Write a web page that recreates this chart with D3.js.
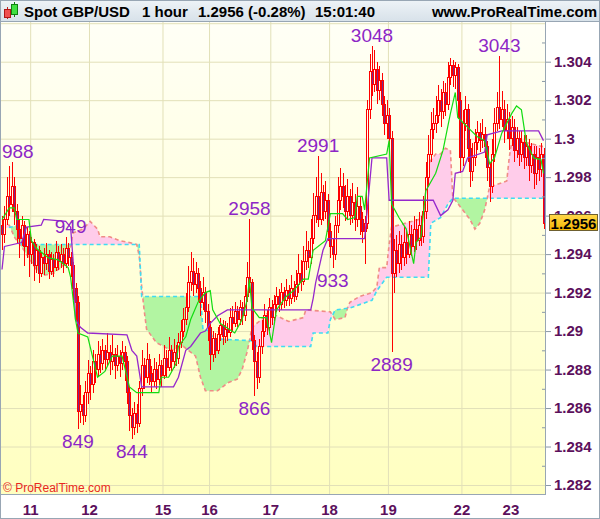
<!DOCTYPE html>
<html lang="en">
<head>
<meta charset="UTF-8">
<title>Spot GBP/USD 1 hour</title>
<script src="https://cdnjs.cloudflare.com/ajax/libs/d3/7.8.5/d3.min.js"></script>
<style>
  html, body { margin: 0; padding: 0; background: #fff; }
  svg { display: block; font-family: Arial, "Liberation Sans", sans-serif; }
</style>
</head>
<body>
<svg id="main" width="600" height="519"></svg>
<script>
// hourly bars; open of each bar = previous close
const firstOpen = 1.2955;
const closes = [
 1.2950,1.2958,1.2970,1.2966,1.2975,1.2962,1.2953,1.2948,1.2955,1.2944,1.2950,1.2940,
 1.2946,1.2934,1.2942,1.2930,1.2938,1.2935,1.2940,1.2931,1.2937,1.2933,1.2941,1.2936,
 1.2940,1.2935,1.2943,1.2938,1.2934,1.2922,1.2915,1.2858,1.2862,1.2856,1.2868,1.2878,
 1.2872,1.2884,1.2880,1.2888,1.2883,1.2890,1.2885,1.2889,1.2884,1.2888,1.2882,1.2887,
 1.2883,1.2889,1.2884,1.2868,1.2856,1.2850,1.2857,1.2852,1.2870,1.2882,1.2876,1.2885,
 1.2878,1.2874,1.2880,1.2875,1.2882,1.2877,1.2886,1.2881,1.2890,1.2884,1.2889,1.2886,
 1.2894,1.2900,1.2906,1.2912,1.2925,1.2931,1.2924,1.2930,1.2922,1.2915,1.2920,1.2910,
 1.2902,1.2888,1.2896,1.2890,1.2898,1.2903,1.2897,1.2901,1.2899,1.2907,1.2904,1.2910,
 1.2906,1.2912,1.2908,1.2918,1.2928,1.2925,1.2895,1.2884,1.2876,1.2892,1.2900,1.2908,
 1.2902,1.2912,1.2907,1.2914,1.2918,1.2914,1.2920,1.2916,1.2921,1.2917,1.2922,1.2918,
 1.2924,1.2930,1.2926,1.2936,1.2942,1.2938,1.2948,1.2960,1.2970,1.2958,1.2972,1.2962,
 1.2968,1.2952,1.2944,1.2940,1.2955,1.2968,1.2975,1.2970,1.2962,1.2970,1.2960,1.2967,
 1.2958,1.2965,1.2958,1.2952,1.2956,1.3015,1.3035,1.3028,1.3036,1.3025,1.3030,1.3018,
 1.3008,1.3012,1.3000,1.2930,1.2942,1.2935,1.2945,1.2938,1.2946,1.2940,1.2950,1.2944,
 1.2953,1.2947,1.2955,1.2949,1.2962,1.2980,1.2992,1.3005,1.3008,1.3012,1.3020,1.3014,
 1.3024,1.3018,1.3032,1.3038,1.3033,1.3037,1.3020,1.2990,1.3008,1.3015,1.2995,1.2983,
 1.2990,1.2998,1.3003,1.2999,1.3002,1.2996,1.2985,1.2975,1.2992,1.3008,1.3016,1.3010,
 1.3015,1.3004,1.3010,1.3000,1.3006,1.2994,1.3000,1.2992,1.2998,1.2990,1.2996,1.2986,
 1.2992,1.2982,1.2990,1.2984,1.2992,1.2956
];
const highs = [
 1.2960,1.2965,1.2980,1.2986,1.2988,1.2980,1.2966,1.2958,1.2960,1.2957,1.2954,1.2952,
 1.2949,1.2948,1.2945,1.2944,1.2941,1.2943,1.2946,1.2942,1.2941,1.2940,1.2947,1.2944,
 1.2945,1.2943,1.2949,1.2946,1.2941,1.2936,1.2925,1.2918,1.2872,1.2867,1.2874,1.2885,
 1.2882,1.2890,1.2888,1.2895,1.2892,1.2896,1.2893,1.2899,1.2893,1.2898,1.2891,1.2893,
 1.2890,1.2895,1.2892,1.2887,1.2871,1.2860,1.2863,1.2862,1.2874,1.2890,1.2886,1.2894,
 1.2888,1.2882,1.2886,1.2884,1.2888,1.2885,1.2893,1.2890,1.2897,1.2893,1.2896,1.2893,
 1.2899,1.2906,1.2912,1.2920,1.2934,1.2941,1.2938,1.2936,1.2933,1.2926,1.2928,1.2923,
 1.2914,1.2905,1.2900,1.2899,1.2902,1.2907,1.2906,1.2905,1.2904,1.2912,1.2913,1.2915,
 1.2913,1.2916,1.2915,1.2924,1.2936,1.2958,1.2927,1.2898,1.2889,1.2896,1.2906,1.2914,
 1.2911,1.2917,1.2916,1.2919,1.2923,1.2922,1.2925,1.2923,1.2927,1.2924,1.2929,1.2926,
 1.2932,1.2940,1.2937,1.2944,1.2952,1.2947,1.2958,1.2972,1.2980,1.2991,1.2982,1.2976,
 1.2978,1.2971,1.2956,1.2948,1.2960,1.2980,1.2985,1.2982,1.2976,1.2979,1.2974,1.2977,
 1.2971,1.2975,1.2970,1.2962,1.2960,1.3020,1.3044,1.3048,1.3046,1.3040,1.3038,1.3034,
 1.3022,1.3020,1.3016,1.3004,1.2948,1.2950,1.2952,1.2950,1.2954,1.2952,1.2957,1.2955,
 1.2960,1.2958,1.2962,1.2960,1.2970,1.2988,1.3002,1.3014,1.3016,1.3022,1.3028,1.3026,
 1.3030,1.3029,1.3040,1.3042,1.3041,1.3040,1.3039,1.3024,1.3015,1.3022,1.3018,1.3000,
 1.2998,1.3005,1.3009,1.3008,1.3010,1.3006,1.2999,1.2988,1.3000,1.3016,1.3024,1.3043,
 1.3025,1.3020,1.3018,1.3014,1.3012,1.3010,1.3006,1.3004,1.3004,1.3002,1.3002,1.3000,
 1.2998,1.2996,1.2996,1.2995,1.2998,1.2995
];
const lows = [
 1.2942,1.2946,1.2955,1.2960,1.2962,1.2955,1.2945,1.2938,1.2944,1.2934,1.2938,1.2928,
 1.2935,1.2926,1.2930,1.2925,1.2928,1.2929,1.2932,1.2927,1.2929,1.2928,1.2931,1.2932,
 1.2933,1.2930,1.2933,1.2934,1.2928,1.2916,1.2905,1.2849,1.2852,1.2851,1.2853,1.2862,
 1.2864,1.2868,1.2873,1.2876,1.2878,1.2880,1.2879,1.2882,1.2877,1.2880,1.2875,1.2879,
 1.2876,1.2880,1.2874,1.2862,1.2848,1.2844,1.2846,1.2847,1.2850,1.2866,1.2870,1.2873,
 1.2872,1.2868,1.2871,1.2870,1.2872,1.2871,1.2875,1.2876,1.2879,1.2879,1.2881,1.2882,
 1.2883,1.2891,1.2897,1.2903,1.2910,1.2921,1.2918,1.2920,1.2915,1.2908,1.2911,1.2904,
 1.2895,1.2880,1.2884,1.2886,1.2888,1.2895,1.2893,1.2894,1.2895,1.2897,1.2900,1.2902,
 1.2902,1.2903,1.2903,1.2905,1.2915,1.2920,1.2890,1.2866,1.2870,1.2873,1.2888,1.2897,
 1.2898,1.2900,1.2903,1.2905,1.2910,1.2910,1.2911,1.2912,1.2913,1.2913,1.2914,1.2915,
 1.2916,1.2920,1.2921,1.2924,1.2932,1.2933,1.2935,1.2945,1.2956,1.2954,1.2955,1.2957,
 1.2958,1.2947,1.2938,1.2933,1.2937,1.2951,1.2963,1.2964,1.2957,1.2958,1.2955,1.2956,
 1.2952,1.2954,1.2950,1.2946,1.2935,1.2953,1.3010,1.3022,1.3024,1.3018,1.3020,1.3012,
 1.3002,1.3000,1.2994,1.2889,1.2920,1.2928,1.2930,1.2932,1.2934,1.2935,1.2938,1.2939,
 1.2941,1.2942,1.2944,1.2944,1.2946,1.2958,1.2975,1.2988,1.3000,1.3003,1.3008,1.3006,
 1.3010,1.3012,1.3015,1.3028,1.3027,1.3026,1.3010,1.2982,1.2986,1.3004,1.2988,1.2975,
 1.2978,1.2986,1.2994,1.2993,1.2995,1.2990,1.2978,1.2967,1.2972,1.2988,1.3004,1.3005,
 1.3006,1.2998,1.3000,1.2994,1.2996,1.2988,1.2990,1.2986,1.2988,1.2984,1.2986,1.2978,
 1.2982,1.2974,1.2976,1.2978,1.2980,1.2953
];

// Ichimoku lines as [bar, price] vertices
const tenkan = [[0,1.2958],[3,1.2964],[5,1.2964],[6,1.2958],[11,1.2958],[12,1.2947],[14,1.2943],[19,1.2938],[23,1.2937],[27,1.2933],[28,1.2928],[30,1.2906],[31,1.2899],[35,1.2897],[39,1.2876],[42,1.2879],[45,1.2887],[49,1.2887],[52,1.2871],[55,1.2868],[64,1.2868],[65,1.2876],[68,1.2876],[71,1.2883],[72,1.2892],[75,1.2897],[77,1.2906],[80,1.2915],[83,1.2920],[85,1.2921],[86,1.2911],[89,1.2904],[95,1.2899],[98,1.2906],[100,1.2916],[101,1.2927],[102,1.2912],[105,1.2907],[108,1.2907],[110,1.2894],[112,1.2911],[116,1.2918],[119,1.2921],[123,1.2927],[125,1.2927],[127,1.2942],[132,1.2947],[134,1.2961],[139,1.2961],[141,1.2958],[144,1.2959],[145,1.2970],[147,1.2970],[148,1.2963],[150,1.2990],[157,1.2992],[158,1.2999],[159,1.2966],[162,1.2959],[165,1.2953],[168,1.2935],[169,1.2946],[171,1.2949],[173,1.2973],[177,1.2982],[180,1.2994],[183,1.3013],[185,1.3024],[186,1.3011],[190,1.3006],[194,1.3001],[197,1.2999],[199,1.2987],[201,1.2990],[204,1.3003],[208,1.3013],[210,1.3017],[212,1.3015],[214,1.2998],[217,1.2990],[220,1.2989],[221,1.2982]];
const kijun = [[0,1.2932],[1,1.2944],[8,1.2946],[10,1.2954],[16,1.2955],[17,1.2958],[26,1.2957],[28,1.2954],[29,1.2937],[30,1.2906],[32,1.2902],[35,1.2899],[51,1.2898],[53,1.2890],[55,1.2887],[57,1.2871],[70,1.2871],[72,1.2876],[75,1.2890],[77,1.2892],[81,1.2899],[83,1.2900],[85,1.2904],[88,1.2908],[92,1.2911],[126,1.2911],[127,1.2917],[128,1.2925],[131,1.2942],[133,1.2948],[148,1.2948],[149,1.2962],[151,1.2990],[157,1.2990],[158,1.2968],[176,1.2968],[179,1.2960],[182,1.2963],[184,1.2968],[185,1.2982],[188,1.2983],[190,1.2990],[197,1.2993],[198,1.3002],[204,1.3004],[219,1.3004],[221,1.2999]];
const spanA = [[0,1.2957],[3,1.2955],[5,1.2949],[9,1.2942],[12,1.2936],[14,1.2932],[17,1.2929],[21,1.2930],[26,1.2935],[28,1.2944],[29,1.2951],[33,1.2953],[36,1.2957],[39,1.2953],[40,1.2949],[44,1.2949],[48,1.2947],[52,1.2946],[55,1.2945],[56,1.2939],[57,1.2923],[58,1.2911],[59,1.2901],[63,1.2894],[69,1.2890],[74,1.2892],[79,1.2887],[81,1.2876],[83,1.2869],[88,1.2869],[92,1.2873],[96,1.2875],[98,1.2880],[100,1.2889],[101,1.2895],[102,1.2902],[106,1.2906],[108,1.2909],[112,1.2908],[117,1.2905],[123,1.2907],[124,1.2911],[134,1.2910],[136,1.2906],[140,1.2907],[141,1.2912],[142,1.2915],[146,1.2918],[151,1.2920],[153,1.2923],[154,1.2933],[157,1.2933],[158,1.2945],[159,1.2954],[170,1.2958],[172,1.2961],[174,1.2987],[177,1.2992],[179,1.2992],[181,1.2995],[183,1.2994],[184,1.2969],[185,1.2968],[188,1.2963],[191,1.2958],[193,1.2953],[195,1.2956],[197,1.2963],[198,1.2969],[199,1.2975],[204,1.2977],[206,1.2978],[207,1.2990],[208,1.2998],[211,1.2999],[220,1.2996],[221,1.2996]];
const spanB = [[0,1.2953],[7,1.2955],[8,1.2945],[56,1.2945],[57,1.2918],[81,1.2918],[82,1.2901],[85,1.2900],[86,1.2896],[102,1.2895],[104,1.2892],[126,1.2892],[127,1.2899],[133,1.2899],[134,1.2906],[136,1.2911],[142,1.2912],[151,1.2916],[153,1.2921],[157,1.2928],[174,1.2928],[175,1.2956],[179,1.2959],[182,1.2966],[184,1.2969],[221,1.2969]];

// swing labels: text as shown, bar, price, side
const swingText = ['988','949','849','844','2958','866','2991','933','3048','2889','3043'];
const swingBar = [4, 28, 31, 53, 101, 103, 129, 135, 151, 159, 203];
const swingPrice = [1.2988, 1.2949, 1.2849, 1.2844, 1.2958, 1.2866, 1.2991, 1.2933, 1.3048, 1.2889, 1.3043];
const swingHigh = [true, true, false, false, true, false, true, false, true, false, true];

const dayBars = [12, 36, 66, 85, 110, 134, 158, 188, 208];
const dayLabels = ['11','12','15','16','17','18','19','22','23'];
const priceTicks = [1.282,1.284,1.286,1.288,1.29,1.292,1.294,1.296,1.298,1.3,1.302,1.304,1.306];
const minorTicks = [1.283,1.285,1.287,1.289,1.291,1.293,1.295,1.297,1.299,1.301,1.303,1.305];

const W = 600, H = 519;
const plot = {l: 1, r: 545, t: 22, b: 494};

const svg = d3.select('#main');
const defs = svg.append('defs');

const bgGrad = defs.append('linearGradient').attr('id', 'bg').attr('x1', 0).attr('x2', 0).attr('y1', 0).attr('y2', 1);
bgGrad.append('stop').attr('offset', '0%').attr('stop-color', '#fffff6');
bgGrad.append('stop').attr('offset', '100%').attr('stop-color', '#ffffc0');
const hdGrad = defs.append('linearGradient').attr('id', 'hd').attr('x1', 0).attr('x2', 0).attr('y1', 0).attr('y2', 1);
hdGrad.append('stop').attr('offset', '0%').attr('stop-color', '#eef3f7');
hdGrad.append('stop').attr('offset', '100%').attr('stop-color', '#d7e1e9');
const boxGrad = defs.append('linearGradient').attr('id', 'box').attr('x1', 0).attr('x2', 0).attr('y1', 0).attr('y2', 1);
boxGrad.append('stop').attr('offset', '0%').attr('stop-color', '#ffd84a');
boxGrad.append('stop').attr('offset', '100%').attr('stop-color', '#f5b400');

defs.append('clipPath').attr('id', 'plotClip').append('rect')
    .attr('x', plot.l).attr('y', plot.t).attr('width', plot.r - plot.l).attr('height', plot.b - plot.t);

let x = d3.scaleLinear().domain([0, closes.length - 1]).range([2, 543.5]);
let xDay = x.copy().domain(x.domain().map(function(v){ return v + 0.5; }));
let y = d3.scaleLinear().domain([1.282, 1.304]).range([485, 61.7]);

// backgrounds
svg.append('rect').attr('width', W).attr('height', H).attr('fill', '#fff');
svg.append('rect').attr('x', plot.l).attr('y', plot.t).attr('width', plot.r - plot.l).attr('height', plot.b - plot.t).attr('fill', 'url(#bg)');
svg.append('rect').attr('width', W).attr('height', plot.t).attr('fill', 'url(#hd)');

// grid
let gy = svg.append('g').attr('transform', 'translate(' + plot.l + ',0)')
    .call(d3.axisRight(y).tickValues(priceTicks).tickSize(plot.r - plot.l).tickFormat(''));
gy.select('.domain').remove();
gy.selectAll('line').attr('stroke', '#e2e0b8');
let gx = svg.append('g').attr('transform', 'translate(0,' + plot.t + ')')
    .call(d3.axisBottom(xDay).tickValues(dayBars).tickSize(plot.b - plot.t).tickFormat(''));
gx.select('.domain').remove();
gx.selectAll('line').attr('stroke', '#e2e0b8');

let chart = svg.append('g').attr('clip-path', 'url(#plotClip)');

// cloud: pink where span A is above span B, green where it is below
const areaBelow = function(pts){ return d3.area().x(function(d){return x(d[0]);}).y0(plot.b).y1(function(d){return y(d[1]);})(pts); };
const areaAbove = function(pts){ return d3.area().x(function(d){return x(d[0]);}).y0(plot.t).y1(function(d){return y(d[1]);})(pts); };
defs.append('clipPath').attr('id', 'aboveA').append('path').attr('d', areaAbove(spanA));
defs.append('clipPath').attr('id', 'aboveB').append('path').attr('d', areaAbove(spanB));
chart.append('g').attr('clip-path', 'url(#aboveB)')
    .append('path').attr('d', areaBelow(spanA)).attr('fill', '#ffccea');
chart.append('g').attr('clip-path', 'url(#aboveA)')
    .append('path').attr('d', areaBelow(spanB)).attr('fill', '#b2f5a2');

const line = d3.line().x(function(d){return x(d[0]);}).y(function(d){return y(d[1]);});
chart.append('path').attr('d', line(spanA)).attr('fill', 'none')
    .attr('stroke', '#f08c86').attr('stroke-width', 1.6).attr('stroke-dasharray', '4,3');
chart.append('path').attr('d', line(spanB)).attr('fill', 'none')
    .attr('stroke', '#3fdcf2').attr('stroke-width', 1.6).attr('stroke-dasharray', '4,3');

// candles
let bars = closes.map(function(c, i){
    return {i: i, o: i === 0 ? firstOpen : closes[i - 1], c: c, h: highs[i], l: lows[i]};
});
let candle = chart.append('g').attr('shape-rendering', 'crispEdges')
    .selectAll('g').data(bars).enter().append('g');
candle.append('line')
    .attr('x1', function(d){return Math.round(x(d.i)) + 0.5;})
    .attr('x2', function(d){return Math.round(x(d.i)) + 0.5;})
    .attr('y1', function(d){return y(d.h);})
    .attr('y2', function(d){return y(d.l);})
    .attr('stroke', '#ff0000').attr('stroke-width', 1);
candle.append('rect')
    .attr('x', function(d){return Math.round(x(d.i)) - 0.5;})
    .attr('y', function(d){return y(Math.max(d.o, d.c));})
    .attr('width', 2)
    .attr('height', function(d){return Math.max(1, Math.abs(y(d.o) - y(d.c)));})
    .attr('fill', function(d){return d.c < d.o ? '#7e2686' : '#fffff0';})
    .attr('stroke', '#ff0000').attr('stroke-width', 1);

// tenkan / kijun
chart.append('path').attr('d', line(kijun)).attr('fill', 'none')
    .attr('stroke', '#9628cc').attr('stroke-width', 1.3);
chart.append('path').attr('d', line(tenkan)).attr('fill', 'none')
    .attr('stroke', '#12dc12').attr('stroke-width', 1.2);

// swing high/low labels, kept inside the plot
let swing = chart.append('g').selectAll('text').data(swingText).enter().append('text')
    .attr('x', function(d, i){return x(swingBar[i]);})
    .attr('y', function(d, i){return swingHigh[i] ? y(swingPrice[i]) - 4 : y(swingPrice[i]) + 19;})
    .attr('text-anchor', 'middle')
    .attr('font-size', '19px')
    .attr('fill', '#8d26c6')
    .text(function(d){return d;});
swing.each(function(){
    let t = d3.select(this);
    let b = this.getBBox();
    if (b.x < plot.l + 1) t.attr('x', +t.attr('x') + (plot.l + 1 - b.x));
});

// borders
svg.append('line').attr('x1', plot.r + 0.5).attr('x2', plot.r + 0.5).attr('y1', plot.t).attr('y2', plot.b + 1).attr('stroke', '#98a6b4');
svg.append('line').attr('x1', 0).attr('x2', plot.r + 1).attr('y1', plot.b + 0.5).attr('y2', plot.b + 0.5).attr('stroke', '#98a6b4');
svg.append('line').attr('x1', 0).attr('x2', W).attr('y1', plot.t - 0.5).attr('y2', plot.t - 0.5).attr('stroke', '#98a6b4');
svg.append('rect').attr('x', 0.5).attr('y', 0.5).attr('width', W - 1).attr('height', H - 1)
    .attr('fill', 'none').attr('stroke', '#98a6b4');

// price axis
let ay = svg.append('g').attr('transform', 'translate(' + (plot.r + 1) + ',0)')
    .call(d3.axisRight(y).tickValues(priceTicks.filter(function(v){return v < 1.305;})).tickSize(5).tickPadding(3)
        .tickFormat(function(d){return String(+d.toFixed(3));}));
ay.select('.domain').remove();
ay.selectAll('line').attr('stroke', '#8a98a6');
ay.selectAll('text').attr('font-size', '15px').attr('font-weight', 'bold').attr('fill', '#5c105c')
    .attr('font-family', 'Arial, "Liberation Sans", sans-serif');
let am = svg.append('g').attr('transform', 'translate(' + plot.r + ',0)')
    .call(d3.axisLeft(y).tickValues(minorTicks.filter(function(v){return v > 1.2816 && v < 1.3058;})).tickSize(3).tickFormat(''));
am.select('.domain').remove();
am.selectAll('line').attr('stroke', '#8a98a6');

// day axis
let ax = svg.append('g').attr('transform', 'translate(0,' + plot.b + ')')
    .call(d3.axisBottom(xDay).tickValues(dayBars).tickSize(0).tickPadding(10)
        .tickFormat(function(d, i){return dayLabels[i];}));
ax.select('.domain').remove();
ax.selectAll('text').attr('font-size', '15px').attr('font-weight', 'bold').attr('fill', '#5c105c')
    .attr('font-family', 'Arial, "Liberation Sans", sans-serif');

// last price box
const last = closes[closes.length - 1];
svg.append('rect').attr('x', 549.5).attr('y', Math.round(y(last)) - 8.5).attr('width', 48).attr('height', 16)
    .attr('fill', 'url(#box)').attr('stroke', '#6e6030');
svg.append('text').attr('x', 573.5).attr('y', y(last)).attr('dy', '0.36em')
    .attr('text-anchor', 'middle').attr('font-size', '15px').attr('font-weight', 'bold').attr('fill', '#000')
    .text(last.toFixed(4));

// header
let icon = svg.append('g');
icon.append('line').attr('x1', 7.5).attr('x2', 7.5).attr('y1', 7).attr('y2', 19).attr('stroke', '#c02020');
icon.append('rect').attr('x', 4.5).attr('y', 9.5).attr('width', 6).attr('height', 8).attr('fill', '#f05050').attr('stroke', '#b01818');
icon.append('line').attr('x1', 14.5).attr('x2', 14.5).attr('y1', 2).attr('y2', 17).attr('stroke', '#108010');
icon.append('rect').attr('x', 11.5).attr('y', 4.5).attr('width', 6).attr('height', 10).attr('fill', '#40e040').attr('stroke', '#108010');

const headerText = ['Spot GBP/USD', '1 hour', '1.2956 (-0.28%)', '15:01:40'];
const headerX = [24, 142, 198, 315];
svg.append('g').selectAll('text').data(headerText).enter().append('text')
    .attr('x', function(d, i){return headerX[i];}).attr('y', 17)
    .attr('font-size', '15px').attr('font-weight', 'bold').attr('fill', '#000')
    .text(function(d){return d;});
svg.append('text').attr('x', 597).attr('y', 17).attr('text-anchor', 'end')
    .attr('font-size', '15px').attr('font-weight', 'bold').attr('fill', '#000')
    .text('www.ProRealTime.com');

svg.append('text').attr('x', 3).attr('y', 492).attr('font-size', '12px').attr('fill', '#e8281e')
    .text('\u00a9 ProRealTime.com');
</script>
</body>
</html>
